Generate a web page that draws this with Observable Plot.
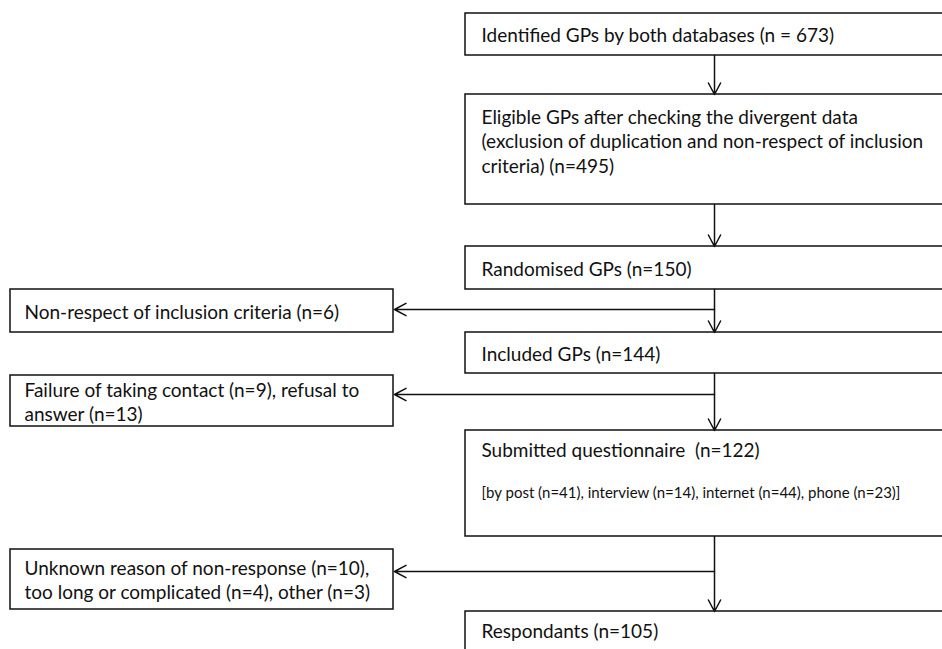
<!DOCTYPE html>
<html>
<head>
<meta charset="utf-8">
<script src="https://cdn.jsdelivr.net/npm/d3@7"></script>
<script src="https://cdn.jsdelivr.net/npm/@observablehq/plot@0.6"></script>
<style>
  html, body { margin: 0; padding: 0; background: #fff; overflow: hidden; }
  #chart { width: 942px; height: 649px; }
</style>
</head>
<body>
<div id="chart"></div>
<script>
// ---- content ----
const mainStages = [
  "Identified GPs by both databases (n = 673)",
  "Eligible GPs after checking the divergent data\n(exclusion of duplication and non-respect of inclusion\ncriteria) (n=495)",
  "Randomised GPs (n=150)",
  "Included GPs (n=144)",
  "Submitted questionnaire  (n=122)",
  "Respondants (n=105)"
];
const mainNotes = ["", "", "", "", "[by post (n=41), interview (n=14), internet (n=44), phone (n=23)]", ""];
const exclusions = [
  "Non-respect of inclusion criteria (n=6)",
  "Failure of taking contact (n=9), refusal to\nanswer (n=13)",
  "Unknown reason of non-response (n=10),\ntoo long or complicated (n=4), other (n=3)"
];

// ---- layout (diagram units = pixels of the 942x649 frame) ----
const W = 942, H = 649;
const mainX1 = 465, mainX2 = 960, spineX = 714;
const sideX1 = 10, sideX2 = 393;
const mainTop = [13, 94, 246, 332, 430, 611];
const mainBottom = [55, 204, 289, 373, 536, 700];
const mainTextY = [34, 140, 267.5, 352.5, 449, 630];
const noteTextY = [0, 0, 0, 0, 493, 0];
const sideTop = [289, 375, 549];
const sideBottom = [332, 426, 609];
const branchY = [309, 394, 571];

const mainBoxes = mainStages.map((label, i) => ({
  label, note: mainNotes[i], x1: mainX1, x2: mainX2, y1: mainTop[i], y2: mainBottom[i], ty: mainTextY[i], ny: noteTextY[i]
}));
const sideBoxes = exclusions.map((label, i) => ({
  label, x1: sideX1, x2: sideX2, y1: sideTop[i], y2: sideBottom[i], by: branchY[i]
}));
const downArrows = d3.range(mainBoxes.length - 1).map(i => ({
  x: spineX, y1: mainBoxes[i].y2, y2: mainBoxes[i + 1].y1
}));
const sideArrows = sideBoxes.map(b => ({ x1: spineX, x2: b.x2 + 1, y: b.by }));

const mainText = mainBoxes.map(b => ({ label: b.label, x: b.x1 + 16, y: b.ty }));
const noteText = mainBoxes.filter(b => b.note).map(b => ({ label: b.note, x: b.x1 + 16, y: b.ny }));
const sideText = sideBoxes.map(b => ({ label: b.label, x: b.x1 + 14, y: (b.y1 + b.y2) / 2 }));

const font = "Lato, 'Open Sans', sans-serif";
const ink = "#111";

const chart = Plot.plot({
  width: W, height: H,
  margin: 0,
  x: { domain: [0, W], range: [0, W], axis: null },
  y: { domain: [0, H], range: [0, H], axis: null },
  style: { fontFamily: font, background: "#fff", color: "#000" },
  marks: [
    Plot.rect(mainBoxes, { x1: "x1", x2: "x2", y1: "y1", y2: "y2", fill: "white", stroke: ink, strokeWidth: 1.5, clip: true }),
    Plot.rect(sideBoxes, { x1: "x1", x2: "x2", y1: "y1", y2: "y2", fill: "white", stroke: ink, strokeWidth: 1.5 }),
    Plot.arrow(downArrows, { x1: "x", x2: "x", y1: "y1", y2: "y2", stroke: ink, strokeWidth: 1.5, headLength: 13, headAngle: 56 }),
    Plot.arrow(sideArrows, { x1: "x1", x2: "x2", y1: "y", y2: "y", stroke: ink, strokeWidth: 1.5, headLength: 13, headAngle: 56 }),
    Plot.text(mainText, { x: "x", y: "y", text: "label", textAnchor: "start", lineAnchor: "middle", fontSize: 19, lineHeight: 1.29, fill: ink }),
    Plot.text(noteText, { x: "x", y: "y", text: "label", textAnchor: "start", lineAnchor: "middle", fontSize: 15, fill: ink }),
    Plot.text(sideText, { x: "x", y: "y", text: "label", textAnchor: "start", lineAnchor: "middle", fontSize: 19, lineHeight: 1.27, fill: ink })
  ]
});
document.getElementById("chart").appendChild(chart);
</script>
</body>
</html>
